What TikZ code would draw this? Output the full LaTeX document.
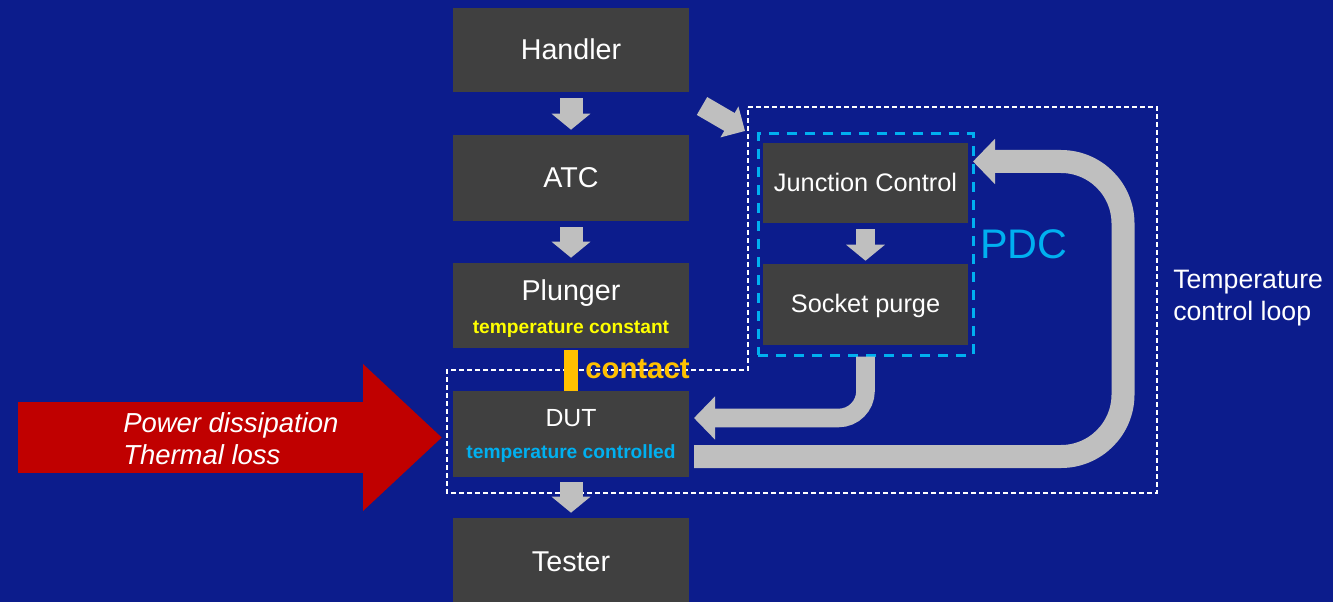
\documentclass[tikz,border=0pt]{standalone}
\usepackage{fontspec}
\setmainfont{Liberation Sans}
\usetikzlibrary{arrows.meta}

\definecolor{bgblue}{HTML}{0C1C8C}
\definecolor{boxgray}{HTML}{404040}
\definecolor{arrowgray}{HTML}{BFBFBF}
\definecolor{heatred}{HTML}{C00000}
\definecolor{pdcblue}{HTML}{00B0F0}
\definecolor{contactgold}{HTML}{FFC000}
\definecolor{noteyellow}{HTML}{FFFF00}

\begin{document}
\begin{tikzpicture}[x=0.75pt,y=-0.75pt,
  stagebox/.style={fill=boxgray, draw=none, minimum width=177pt, minimum height=63pt, inner sep=0pt},
  sidebox/.style={fill=boxgray, draw=none, minimum width=153.75pt, minimum height=60pt, inner sep=0pt},
  txt/.style={text=white, anchor=base, inner sep=0pt},
  bigtxt/.style={txt, font=\fontsize{21.5}{25}\selectfont},
  midtxt/.style={txt, font=\fontsize{19}{22}\selectfont},
  subtxt/.style={anchor=base, inner sep=0pt, font=\bfseries\fontsize{14.4}{17}\selectfont},
  flowarrow/.style={draw=arrowgray, line width=17.25pt, -{Triangle[width=28.5pt,length=12pt]}},
  pdcarrow/.style={draw=arrowgray, line width=14.25pt, -{Triangle[width=28.5pt,length=12pt]}},
  looparrow/.style={draw=arrowgray, line width=17.25pt, rounded corners=46.5pt, -{Triangle[width=33pt,length=16.5pt]}},
  returnarrow/.style={draw=arrowgray, line width=13.9pt, rounded corners=20.25pt, -{Triangle[width=31.5pt,length=15.75pt]}},
  heatarrow/.style={draw=heatred, line width=53.25pt, -{Triangle[width=106.5pt,length=59.25pt]}},
  loopframe/.style={draw=white, line width=1.5pt, dash pattern=on 3.75pt off 2.25pt},
]
% canvas
\useasboundingbox (0,0) rectangle (1333,602);
\fill[bgblue] (0,0) rectangle (1333,602);

% outline of the temperature controlled zone
\draw[loopframe] (748,107) -- (1157,107) -- (1157,493) -- (447,493) -- (447,370) -- (748,370) -- cycle;

% main process chain
\node[stagebox] (handler) at (571,50) {};
\node[stagebox, minimum height=64.5pt] (atc) at (571,178) {};
\node[stagebox, minimum height=63.75pt] (plunger) at (571,305.5) {};
\node[stagebox, minimum height=64.5pt] (dut) at (571,434) {};
\node[stagebox] (tester) at (571,560) {};

% PDC group
\node[draw=pdcblue, line width=2.25pt, dash pattern=on 7.5pt off 6pt,
      minimum width=161.25pt, minimum height=165.75pt, inner sep=0pt] (pdc) at (865.5,244.5) {};
\node[sidebox] (junction) at (865.5,183) {};
\node[sidebox, minimum height=60.75pt] (socket) at (865.5,304.5) {};

% flow arrows
\draw[flowarrow, shorten <=4.5pt, shorten >=3.75pt] (handler) -- (atc);
\draw[flowarrow, shorten <=4.5pt, shorten >=3.75pt] (atc) -- (plunger);
\draw[flowarrow, shorten <=3.75pt, shorten >=3.75pt] (dut) -- (tester);
\draw[pdcarrow, shorten <=4.5pt, shorten >=2.25pt] (junction) -- (socket);

\coordinate (handlerout) at (702,106);
\coordinate (pdcin) at (745,131);
\draw[draw=arrowgray, line width=15.5pt, -{Triangle[width=26pt,length=13.5pt]}] (handlerout) -- (pdcin);

\coordinate (dutin) at (694,418);
\draw[returnarrow] (pdc.south) |- (dutin);

\coordinate (loopout) at (694,456.5);
\coordinate (loopin) at (973,161.5);
\draw[looparrow] (loopout) -- (1123,456.5) -- (1123,161.5) -- (loopin);

% heat input
\coordinate (heatsrc) at (18,437.5);
\coordinate (heattip) at (442,437.5);
\draw[heatarrow] (heatsrc) -- (heattip);

% contact between plunger and DUT
\node[fill=contactgold, minimum width=10.5pt, minimum height=30.75pt, inner sep=0pt] (contactbar) at (571,370.5) {};

% texts
\node[bigtxt] (handlertxt) at (571,60) {Handler};
\node[bigtxt] (atctxt) at (571,188) {ATC};
\node[bigtxt] (plungertxt) at (571,300) {Plunger};
\node[subtxt, text=noteyellow] (plungernote) at (571,333) {temperature constant};
\node[txt, font=\fontsize{18.6}{22}\selectfont] (duttxt) at (571,426) {DUT};
\node[subtxt, text=pdcblue] (dutnote) at (571,458) {temperature controlled};
\node[bigtxt] (testertxt) at (571,571) {Tester};
\node[midtxt] (junctiontxt) at (865.5,192) {Junction Control};
\node[midtxt] (sockettxt) at (865.5,312) {Socket purge};
\node[anchor=base west, inner sep=0pt, text=pdcblue, font=\fontsize{31}{36}\selectfont] (pdctxt) at (980,258) {PDC};
\node[anchor=base west, inner sep=0pt, text=contactgold, font=\bfseries\fontsize{22}{26}\selectfont] (contacttxt) at (585,378) {contact};
\node[anchor=base west, inner sep=0pt, text=white, font=\fontsize{20}{24}\selectfont] (looptxt1) at (1173,288) {Temperature};
\node[anchor=base west, inner sep=0pt, text=white, font=\fontsize{20}{24}\selectfont] (looptxt2) at (1173,320) {control loop};
\node[anchor=base west, inner sep=0pt, text=white, font=\itshape\fontsize{20.6}{24}\selectfont] (heattxt1) at (123,432) {Power dissipation};
\node[anchor=base west, inner sep=0pt, text=white, font=\itshape\fontsize{20.6}{24}\selectfont] (heattxt2) at (123,464) {Thermal loss};
\end{tikzpicture}
\end{document}
